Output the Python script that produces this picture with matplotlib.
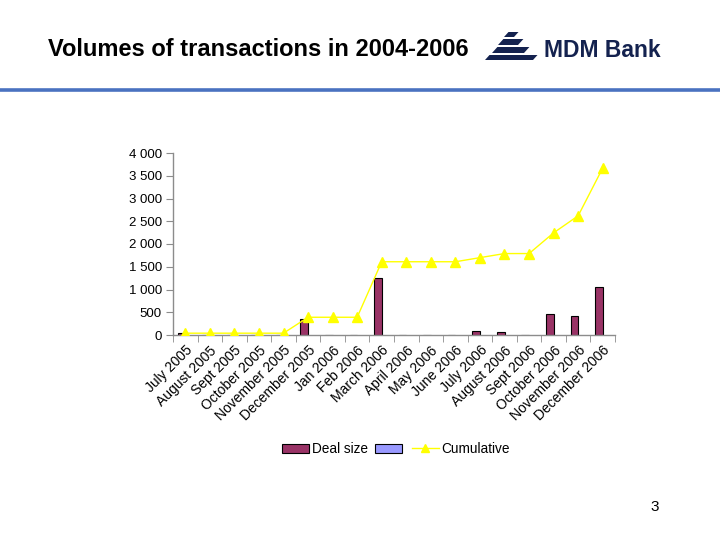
import numpy as np
import matplotlib
matplotlib.use("Agg")
import matplotlib.pyplot as plt
from matplotlib.patches import Patch, Polygon
from matplotlib.lines import Line2D

plt.rcParams['font.family'] = ['Liberation Sans', 'DejaVu Sans']

# данные с графика
months = ["July 2005", "August 2005", "Sept 2005", "October 2005", "November 2005",
          "December 2005", "Jan 2006", "Feb 2006", "March 2006", "April 2006",
          "May 2006", "June 2006", "July 2006", "August 2006", "Sept 2006",
          "October 2006", "November 2006", "December 2006"]
deal_size = [50, 0, 0, 0, 0, 350, 0, 0, 1245, 0, 0, 0, 95, 75, 0, 455, 410, 1060]
cumulative = [40, 40, 40, 40, 40, 390, 390, 390, 1610, 1610, 1610, 1610,
              1700, 1790, 1790, 2245, 2620, 3670]
y_ticks = [0, 500, 1000, 1500, 2000, 2500, 3000, 3500, 4000]

BAR_COLOR = '#993366'
EMPTY_COLOR = '#9999FF'
LINE_COLOR = '#FFFF00'
NAVY = '#14224f'
GRAY = '#8c8c8c'

fig = plt.figure(figsize=(7.2, 5.4), dpi=100)

# слой для заголовка и логотипа в пиксельных координатах
over = fig.add_axes([0, 0, 1, 1])
over.set_xlim(0, 720)
over.set_ylim(540, 0)
over.axis('off')

over.text(48, 56, "Volumes of transactions in 2004-2006", fontsize=17,
          fontweight='bold', va='baseline', ha='left', color='black')
over.plot([0, 720], [89.5, 89.5], color='#4a72c0', linewidth=2.6,
          solid_capstyle='butt')
over.text(655, 507, "3", fontsize=11, ha='center', va='center')

# логотип: ступеньки
steps = [(504, 514, 32, 37), (498, 518, 39, 45), (492, 524, 47, 53), (485, 533, 55, 60)]
for x0, x1, y0, y1 in steps:
    sk = (y1 - y0) * 0.9
    over.add_patch(Polygon([(x0 + sk, y0), (x1 + sk, y0), (x1, y1), (x0, y1)],
                           closed=True, color=NAVY, lw=0))

# логотип: надпись
over.text(544, 57, "MDM Bank", fontsize=16.5, fontweight='bold', color=NAVY,
          ha='left', va='baseline')

# основной график
ax = fig.add_axes([173 / 720, 1 - 335 / 540, 442 / 720, 182 / 540])
x = np.arange(len(months))
w = 0.31
ax.bar(x - w / 2, deal_size, width=w, color=BAR_COLOR, edgecolor='black',
       linewidth=0.8, zorder=2)
ax.plot(x, cumulative, color=LINE_COLOR, linewidth=1.0, marker='^',
        markersize=6.5, markeredgecolor=LINE_COLOR, zorder=3)

ax.set_xlim(-0.5, len(months) - 0.5)
ax.set_ylim(0, 4000)
ax.set_yticks(y_ticks)
ax.set_yticklabels([f"{v:,}".replace(",", " ") for v in y_ticks], fontsize=9.5)
ax.set_xticks(x)
ax.set_xticklabels(months, rotation=45, ha='right', rotation_mode='anchor',
                   fontsize=10)
ax.set_xticks(np.arange(-0.5, len(months)), minor=True)
ax.tick_params(axis='x', which='major', length=0, pad=6)
ax.tick_params(axis='x', which='minor', length=5, color=GRAY, direction='out')
ax.tick_params(axis='y', length=5, color=GRAY, direction='out', pad=3)

for s in ['top', 'right']:
    ax.spines[s].set_visible(False)
for s in ['left', 'bottom']:
    ax.spines[s].set_color(GRAY)
    ax.spines[s].set_linewidth(1.0)
ax.set_facecolor('none')

handles = [Patch(facecolor=BAR_COLOR, edgecolor='black', linewidth=0.8),
           Patch(facecolor=EMPTY_COLOR, edgecolor='black', linewidth=0.8),
           Line2D([], [], color=LINE_COLOR, marker='^', markersize=6,
                  markeredgecolor=LINE_COLOR, linewidth=1.0)]
fig.legend(handles, ["Deal size", "", "Cumulative"], loc='center',
           bbox_to_anchor=(396 / 720, 1 - 449 / 540), ncol=3, frameon=False,
           fontsize=9.8, handlelength=2.0, handleheight=0.6,
           columnspacing=0.5, handletextpad=0.2)

fig.savefig("out.png", dpi=100)
